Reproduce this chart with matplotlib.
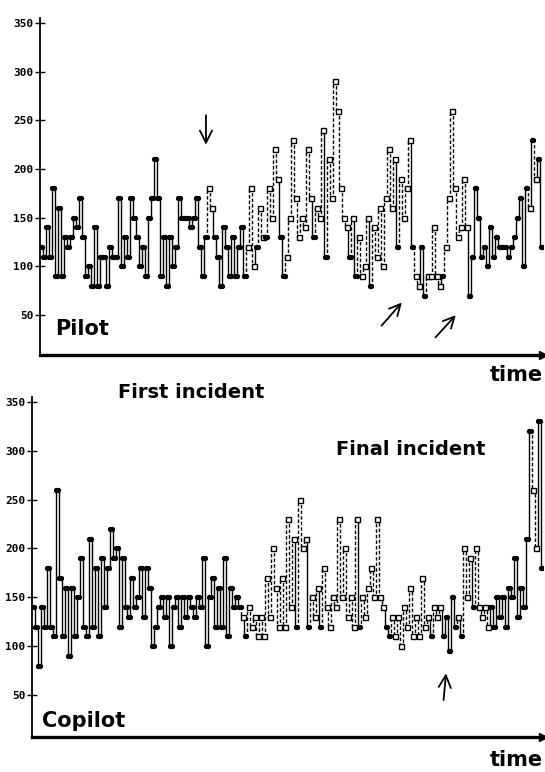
import matplotlib
matplotlib.use("Agg")
import matplotlib.pyplot as plt

# heart rate samples, one per time step; kind: 'o' = filled dot / solid line, 's' = open square / dashed line
pilot_hr = [
    120, 110, 140, 110, 180, 90, 160, 90, 130, 120,
    130, 150, 140, 170, 130, 90, 100, 80, 140, 80,
    110, 110, 80, 120, 110, 110, 170, 100, 130, 110,
    170, 150, 130, 100, 120, 90, 150, 170, 210, 170,
    90, 130, 80, 130, 100, 120, 170, 150, 150, 150,
    140, 150, 170, 120, 90, 130, 180, 160, 130, 110,
    80, 140, 120, 90, 130, 90, 120, 140, 90, 120,
    180, 100, 120, 160, 130, 130, 180, 150, 220, 190,
    130, 90, 110, 150, 230, 170, 130, 150, 140, 220,
    170, 130, 160, 150, 240, 110, 210, 170, 290, 260,
    180, 150, 140, 110, 150, 90, 130, 90, 100, 150,
    80, 140, 110, 160, 100, 170, 220, 160, 210, 120,
    190, 150, 180, 230, 120, 90, 80, 120, 70, 90,
    90, 140, 90, 80, 90, 120, 170, 260, 180, 130,
    140, 190, 140, 70, 110, 180, 150, 110, 120, 100,
    140, 110, 130, 120, 120, 120, 110, 120, 130, 150,
    170, 100, 180, 160, 230, 190, 210, 120,
]
pilot_kind = ("oooooooooo" "oooooooooo" "oooooooooo" "oooooooooo" "oooooooooo"
              "oooooossoo" "ooooooooos" "ssossossss" "oossssssss" "sosssossss"
              "sssosossss" "osssssssso" "ssssossoos" "ssssosssss" "sssooooooo"
              "oooooooooo" "ooososoo")

copilot_hr = [
    140, 120, 80, 140, 120, 180, 120, 110, 260, 170,
    110, 160, 90, 160, 110, 150, 190, 120, 110, 210,
    120, 180, 110, 190, 140, 180, 220, 190, 200, 120,
    190, 140, 130, 170, 140, 150, 180, 130, 180, 160,
    100, 120, 140, 150, 130, 150, 100, 140, 150, 120,
    150, 130, 150, 140, 130, 150, 140, 190, 100, 150,
    170, 120, 160, 120, 190, 110, 160, 140, 150, 140,
    130, 110, 140, 120, 130, 110, 130, 110, 170, 130,
    200, 160, 120, 170, 120, 230, 140, 210, 120, 250,
    200, 210, 120, 150, 130, 160, 120, 180, 140, 120,
    150, 140, 230, 150, 200, 130, 150, 120, 230, 120,
    150, 130, 160, 180, 150, 230, 150, 140, 120, 110,
    130, 110, 130, 100, 140, 120, 160, 110, 130, 110,
    170, 120, 130, 110, 140, 130, 140, 110, 130, 95,
    150, 120, 130, 110, 200, 150, 190, 140, 200, 140,
    130, 140, 120, 140, 120, 150, 130, 150, 120, 160,
    150, 190, 130, 160, 140, 210, 320, 260, 200, 330, 180,
]
copilot_kind = ("oooooooooo" "oooooooooo" "oooooooooo" "oooooooooo" "oooooooooo"
                "oooooooooo" "oooooooooo" "sossssssss" "ssssssssos" "ssosssosss"
                "ssssssssso" "ssssssssoo" "ssssssssss" "sssosssooo" "oososssoss"
                "sssooooooo" "ooooooossoo")

yticks = [50, 100, 150, 200, 250, 300, 350]

FONT = "DejaVu Sans"


def draw_trace(ax, values, kinds):
    # step-like trace: vertical jump at each sample, short level between samples
    n = len(values)
    for i in range(n - 1):
        ls = "-" if kinds[i + 1] == "o" else (0, (2.5, 1.5))
        ax.plot([i, i + 1], [values[i], values[i + 1]], color="k", lw=1.0, ls=ls,
                drawstyle="steps-mid", solid_capstyle="butt")
    for i, (v, k) in enumerate(zip(values, kinds)):
        if k == "o":
            ax.plot([i - 0.25, i + 0.25], [v, v], ls="none", marker="o", ms=2.8,
                    color="k", zorder=3)
        else:
            ax.plot(i, v, marker="s", ms=3.6, mfc="white", mec="k", mew=1.0, zorder=3)


def style_axes(ax):
    for side in ("top", "right"):
        ax.spines[side].set_visible(False)
    ax.spines["left"].set_linewidth(1.3)
    ax.spines["bottom"].set_linewidth(2.4)
    ax.set_xticks([])
    ax.set_yticks(yticks)
    ax.set_yticklabels([str(t) for t in yticks], family="DejaVu Sans Mono",
                       fontweight="bold", fontsize=8)
    ax.tick_params(axis="y", direction="inout", length=7, width=1.0, pad=1)
    ax.plot(1, 0, ">", color="k", ms=6, transform=ax.transAxes, clip_on=False)


fig = plt.figure(figsize=(5.45, 7.72), dpi=100)

ax1 = fig.add_axes([40 / 545, 1 - 355 / 772, 503 / 545, 337 / 772])
draw_trace(ax1, pilot_hr, pilot_kind)
ax1.set_ylim(9, 355)
ax1.set_xlim(-0.4, 167.5)
style_axes(ax1)
ax1.text(0.03, 0.06, "Pilot", transform=ax1.transAxes, family=FONT,
         fontweight="bold", fontsize=15)
ax1.annotate("", xy=(55, 222), xytext=(55, 258),
             arrowprops=dict(arrowstyle="->", lw=1.3, mutation_scale=22))
ax1.annotate("", xy=(121, 65), xytext=(113, 37),
             arrowprops=dict(arrowstyle="->", lw=1.3, mutation_scale=20))
ax1.annotate("", xy=(139, 52), xytext=(131, 25),
             arrowprops=dict(arrowstyle="->", lw=1.3, mutation_scale=20))

ax2 = fig.add_axes([32 / 545, 1 - 737 / 772, 511 / 545, 340 / 772])
draw_trace(ax2, copilot_hr, copilot_kind)
ax2.set_ylim(7, 355)
ax2.set_xlim(-0.4, 170.3)
style_axes(ax2)
ax2.text(0.02, 0.03, "Copilot", transform=ax2.transAxes, family=FONT,
         fontweight="bold", fontsize=15)
ax2.annotate("", xy=(138, 75), xytext=(137, 42),
             arrowprops=dict(arrowstyle="->", lw=1.3, mutation_scale=22))

fig.text(543 / 545, 1 - 375 / 772, "time", ha="right", va="center", family=FONT,
         fontweight="bold", fontsize=15)
fig.text(191 / 545, 1 - 393 / 772, "First incident", ha="center", va="center",
         family=FONT, fontweight="bold", fontsize=14)
fig.text(411 / 545, 1 - 450 / 772, "Final incident", ha="center", va="center",
         family=FONT, fontweight="bold", fontsize=14)
fig.text(543 / 545, 1 - 760 / 772, "time", ha="right", va="center", family=FONT,
         fontweight="bold", fontsize=15)

fig.savefig("out.png", dpi=100)
